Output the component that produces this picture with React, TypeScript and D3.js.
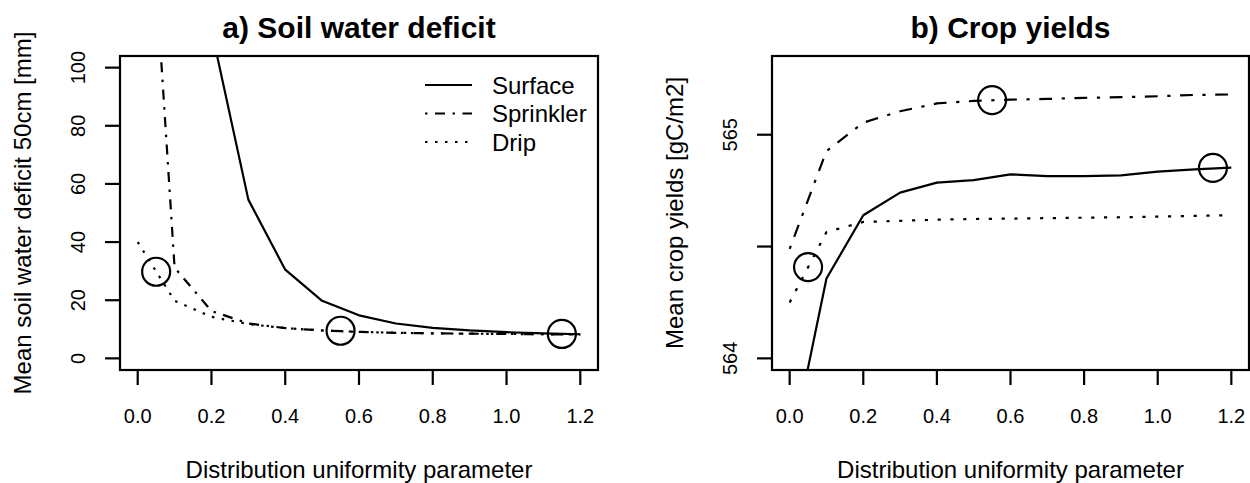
import React from "react";
import * as d3 from "d3";

// ---------- data ----------
const xValues = [0, 0.1, 0.2, 0.3, 0.4, 0.5, 0.6, 0.7, 0.8, 0.9, 1.0, 1.1, 1.2];

// a) Soil water deficit [mm]
const deficitSurface = [420, 230, 113, 54.6, 30.5, 19.8, 14.8, 12.0, 10.5, 9.6, 9.0, 8.6, 8.3];
const deficitSprinkler = [228, 31.2, 16.3, 12.0, 10.4, 9.6, 9.1, 8.8, 8.6, 8.5, 8.4, 8.3, 8.2];
const deficitDrip = [40, 19.8, 14.3, 11.8, 10.4, 9.6, 9.1, 8.8, 8.6, 8.5, 8.4, 8.3, 8.2];
const deficitOptX = [0.05, 0.55, 1.15];
const deficitOptY = [29.8, 9.5, 8.4];

// b) Crop yields [gC/m2]
const yieldSurface = [563.56, 564.357, 564.64, 564.741, 564.786, 564.797, 564.823, 564.815, 564.815, 564.818, 564.835, 564.845, 564.853];
const yieldSprinkler = [564.49, 564.927, 565.054, 565.105, 565.14, 565.151, 565.157, 565.16, 565.165, 565.168, 565.172, 565.178, 565.18];
const yieldDrip = [564.25, 564.565, 564.61, 564.615, 564.62, 564.623, 564.625, 564.627, 564.629, 564.631, 564.634, 564.637, 564.64];
const yieldOptX = [0.05, 0.55, 1.15];
const yieldOptY = [564.408, 565.155, 564.852];

const xTicks = [0, 0.2, 0.4, 0.6, 0.8, 1.0, 1.2];
const xTickLabels = ["0.0", "0.2", "0.4", "0.6", "0.8", "1.0", "1.2"];
const deficitTicks = [0, 20, 40, 60, 80, 100];
const deficitTickLabels = ["0", "20", "40", "60", "80", "100"];
const yieldTicks = [564, 564.5, 565];
const yieldTickLabels = ["564", "", "565"];

const seriesNames = ["Surface", "Sprinkler", "Drip"];

// ---------- layout ----------
const W = 1250;
const H = 483;
const FONT = "'Liberation Sans', Arial, Helvetica, sans-serif";

type PanelProps = {
  id: string;
  x0: number;
  x1: number;
  title: string;
  yLabel: string;
  yDomain: [number, number];
  yTicks: number[];
  yTickLabels: string[];
  series: number[][];
  optX: number[];
  optY: number[];
  dashScale: number;
  legend: boolean;
};

const TOP = 56;
const BOTTOM = 370;

function Panel(p: PanelProps) {
  const x = d3.scaleLinear().domain([-0.048, 1.248]).range([p.x0, p.x1]);
  const [ylo, yhi] = p.yDomain;
  const r = yhi - ylo;
  const y = d3
    .scaleLinear()
    .domain([ylo - 0.04 * r, yhi + 0.04 * r])
    .range([BOTTOM, TOP]);
  const s = p.dashScale;
  const dashes = ["", `${s} ${3 * s} ${4 * s} ${3 * s}`, `${s} ${3 * s}`];
  const line = d3
    .line<number>()
    .x((_, i) => x(xValues[i]))
    .y((v) => y(v));
  const cx = (p.x0 + p.x1) / 2;
  const cy = (TOP + BOTTOM) / 2;
  return (
    <g>
      <defs>
        <clipPath id={p.id}>
          <rect x={p.x0} y={TOP} width={p.x1 - p.x0} height={BOTTOM - TOP} />
        </clipPath>
      </defs>
      <text x={cx} y={38} textAnchor="middle" fontFamily={FONT} fontWeight="bold" fontSize={30}>
        {p.title}
      </text>
      <g clipPath={`url(#${p.id})`}>
        {p.series.map((vals, i) => (
          <path
            key={i}
            d={line(vals) || ""}
            fill="none"
            stroke="#000"
            strokeWidth={2.2}
            strokeDasharray={dashes[i] || undefined}
            strokeLinejoin="round"
          />
        ))}
        {p.optX.map((ox, i) => (
          <circle key={i} cx={x(ox)} cy={y(p.optY[i])} r={14} fill="none" stroke="#000" strokeWidth={2.2} />
        ))}
      </g>
      <rect x={p.x0} y={TOP} width={p.x1 - p.x0} height={BOTTOM - TOP} fill="none" stroke="#000" strokeWidth={2.2} />
      {/* x axis */}
      {xTicks.map((t, i) => (
        <g key={i}>
          <line x1={x(t)} x2={x(t)} y1={BOTTOM} y2={BOTTOM + 15} stroke="#000" strokeWidth={2.2} />
          <text x={x(t)} y={423} textAnchor="middle" fontFamily={FONT} fontSize={20}>
            {xTickLabels[i]}
          </text>
        </g>
      ))}
      <text x={cx} y={478} textAnchor="middle" fontFamily={FONT} fontSize={24}>
        Distribution uniformity parameter
      </text>
      {/* y axis */}
      {p.yTicks.map((t, i) => (
        <g key={i}>
          <line x1={p.x0 - 15} x2={p.x0} y1={y(t)} y2={y(t)} stroke="#000" strokeWidth={2.2} />
          {p.yTickLabels[i] && (
            <text
              transform={`translate(${p.x0 - 35},${y(t)}) rotate(-90)`}
              textAnchor="middle"
              fontFamily={FONT}
              fontSize={20}
            >
              {p.yTickLabels[i]}
            </text>
          )}
        </g>
      ))}
      <text
        transform={`translate(${p.x0 - 89},${cy}) rotate(-90)`}
        textAnchor="middle"
        fontFamily={FONT}
        fontSize={24}
      >
        {p.yLabel}
      </text>
      {p.legend &&
        seriesNames.map((name, i) => {
          const ly = 85 + i * 28.5;
          return (
            <g key={name}>
              <line
                x1={425}
                x2={472}
                y1={ly}
                y2={ly}
                stroke="#000"
                strokeWidth={2.2}
                strokeDasharray={dashes[i] || undefined}
              />
              <text x={492} y={ly + 8.5} fontFamily={FONT} fontSize={24}>
                {name}
              </text>
            </g>
          );
        })}
    </g>
  );
}

export default function App() {
  return (
    <svg
      width={W}
      height={H}
      viewBox={`0 0 ${W} ${H}`}
      style={{ position: "fixed", left: 0, top: 0, background: "#fff" }}
    >
      <rect width={W} height={H} fill="#fff" />
      <Panel
        id="clipA"
        x0={120}
        x1={598}
        title="a) Soil water deficit"
        yLabel="Mean soil water deficit 50cm [mm]"
        yDomain={[0, 100]}
        yTicks={deficitTicks}
        yTickLabels={deficitTickLabels}
        series={[deficitSurface, deficitSprinkler, deficitDrip]}
        optX={deficitOptX}
        optY={deficitOptY}
        dashScale={2.5}
        legend={true}
      />
      <Panel
        id="clipB"
        x0={772}
        x1={1249}
        title="b) Crop yields"
        yLabel="Mean crop yields [gC/m2]"
        yDomain={[564.0, 565.3]}
        yTicks={yieldTicks}
        yTickLabels={yieldTickLabels}
        series={[yieldSurface, yieldSprinkler, yieldDrip]}
        optX={yieldOptX}
        optY={yieldOptY}
        dashScale={3.2}
        legend={false}
      />
    </svg>
  );
}
